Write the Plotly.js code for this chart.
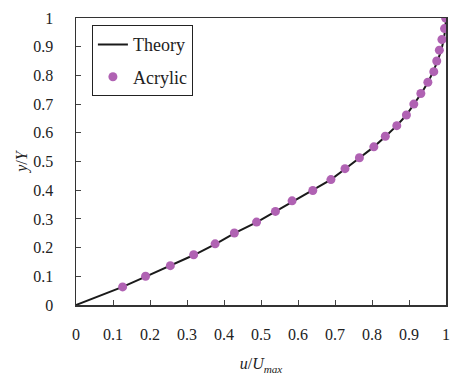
<!DOCTYPE html>
<html>
<head>
<meta charset="utf-8">
<script src="https://cdn.plot.ly/plotly-3.0.1.min.js"></script>
<style>html,body{margin:0;padding:0;background:#fff;}#chart{width:450px;height:383px;}</style>
</head>
<body>
<div id="chart"></div>
<script>
var theoryU = [0, 0.06, 0.126, 0.19, 0.255, 0.32, 0.378, 0.43, 0.489, 0.54, 0.587, 0.64, 0.689, 0.728, 0.767, 0.805, 0.837, 0.867, 0.893, 0.914, 0.933, 0.951, 0.965, 0.977, 0.987, 0.994, 0.998, 1];
var theoryY = [0, 0.03, 0.063, 0.1, 0.137, 0.175, 0.213, 0.251, 0.289, 0.326, 0.363, 0.4, 0.437, 0.475, 0.513, 0.551, 0.588, 0.625, 0.662, 0.7, 0.737, 0.775, 0.812, 0.85, 0.887, 0.925, 0.962, 1];
var acrylicU = [0.126, 0.188, 0.255, 0.318, 0.376, 0.428, 0.488, 0.539, 0.584, 0.640, 0.689, 0.727, 0.766, 0.805, 0.836, 0.867, 0.893, 0.913, 0.932, 0.951, 0.967, 0.975, 0.982, 0.989, 0.996, 0.999];
var acrylicY = [0.063, 0.100, 0.137, 0.175, 0.213, 0.251, 0.289, 0.326, 0.363, 0.399, 0.437, 0.475, 0.513, 0.551, 0.588, 0.625, 0.662, 0.700, 0.737, 0.776, 0.813, 0.850, 0.888, 0.925, 0.963, 1.0];
var tickVals = [0, 0.1, 0.2, 0.3, 0.4, 0.5, 0.6, 0.7, 0.8, 0.9, 1];
var tickText = ['0', '0.1', '0.2', '0.3', '0.4', '0.5', '0.6', '0.7', '0.8', '0.9', '1'];

var fam = 'Times New Roman, Liberation Serif, DejaVu Serif, serif';
var font = {family: fam, size: 16, color: '#222'};
var legendFont = {family: fam, size: 18, color: '#222'};
var traces = [
  {x: theoryU, y: theoryY, name: 'Theory', mode: 'lines', type: 'scatter', legendgroup: 'a',
   line: {color: '#1a1a1a', width: 2}},
  {x: acrylicU, y: acrylicY, name: 'Acrylic', mode: 'markers', type: 'scatter', legendgroup: 'b',
   marker: {color: '#b062b3', size: 9}}
];
var axisCommon = {
  range: [0, 1], tickvals: tickVals, ticktext: tickText,
  ticks: 'inside', ticklen: 5, tickwidth: 1, tickcolor: '#444',
  showline: true, linecolor: '#333', linewidth: 1.5, mirror: true,
  showgrid: false, zeroline: false, tickfont: font
};
var layout = {
  width: 450, height: 383,
  margin: {l: 76, r: 4, t: 18, b: 78},
  paper_bgcolor: '#fff', plot_bgcolor: '#fff',
  font: font,
  showlegend: true,
  legend: {x: 0.043, y: 0.975, xanchor: 'left', yanchor: 'top',
           bordercolor: '#222', borderwidth: 1, bgcolor: '#fff',
           font: legendFont, traceorder: 'grouped', tracegroupgap: 6,
           itemwidth: 30},
  xaxis: Object.assign({}, axisCommon, {
    ticklabelstandoff: 14,
    title: {text: '<i>u</i>/<i>U</i><sub><i>max</i></sub>', font: font, standoff: 16}
  }),
  yaxis: Object.assign({}, axisCommon, {
    ticklabelstandoff: 18,
    title: {text: '<i>y</i>/<i>Y</i>', font: font, standoff: 1}
  })
};
Plotly.newPlot('chart', traces, layout, {displayModeBar: false, staticPlot: true});
</script>
</body>
</html>
